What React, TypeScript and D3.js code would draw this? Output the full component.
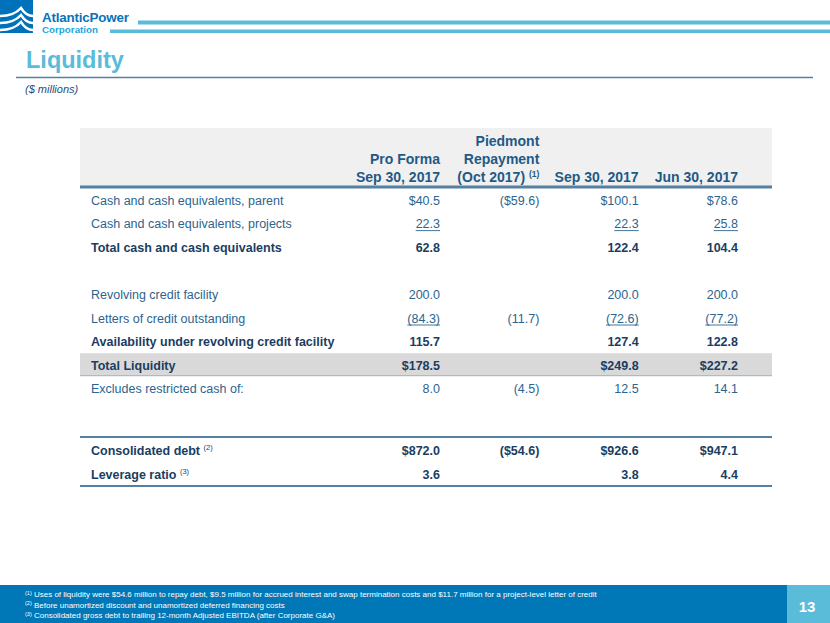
import React, { useEffect, useRef } from "react";
import * as d3 from "d3";

// table content ($ millions)
const columns = ["proForma", "piedmont", "sep2017", "jun2017"];
const headerLines = [
  ["Pro Forma", "Sep 30, 2017"],
  ["Piedmont", "Repayment", "(Oct 2017)"],
  ["Sep 30, 2017"],
  ["Jun 30, 2017"],
];
const headerNotes = ["", "(1)", "", ""];

const rowLabels = [
  "Cash and cash equivalents, parent",
  "Cash and cash equivalents, projects",
  "Total cash and cash equivalents",
  "",
  "Revolving credit facility",
  "Letters of credit outstanding",
  "Availability under revolving credit facility",
  "Total Liquidity",
  "Excludes restricted cash of:",
];
const proForma = ["$40.5", "22.3", "62.8", "", "200.0", "(84.3)", "115.7", "$178.5", "8.0"];
const piedmont = ["($59.6)", "", "", "", "", "(11.7)", "", "", "(4.5)"];
const sep2017 = ["$100.1", "22.3", "122.4", "", "200.0", "(72.6)", "127.4", "$249.8", "12.5"];
const jun2017 = ["$78.6", "25.8", "104.4", "", "200.0", "(77.2)", "122.8", "$227.2", "14.1"];
const boldRows = [2, 6, 7];
const underlinedRows = [1, 5];
const underlinedCols = ["proForma", "sep2017", "jun2017"];
const totalRow = 7;

const debtLabels = ["Consolidated debt", "Leverage ratio"];
const debtNotes = ["(2)", "(3)"];
const debtProForma = ["$872.0", "3.6"];
const debtPiedmont = ["($54.6)", ""];
const debtSep2017 = ["$926.6", "3.8"];
const debtJun2017 = ["$947.1", "4.4"];

const footnotes = [
  ["(1)", "Uses of liquidity were $54.6 million to repay debt, $9.5 million for accrued interest and swap termination costs and $11.7 million for a project-level letter of credit"],
  ["(2)", "Before unamortized discount and unamortized deferred financing costs"],
  ["(3)", "Consolidated gross debt to trailing 12-month Adjusted EBITDA (after Corporate G&A)"],
];

const FONT = "'Liberation Sans', Arial, sans-serif";
const C_REG = "#2c6490";
const C_BOLD = "#1a3d62";
const C_HEAD = "#1f5a86";
const C_RULE = "#55809f";

function App() {
  const svgRef = useRef<SVGSVGElement>(null);

  useEffect(() => {
    const w = 830;
    const h = 623;
    const left = 80;
    const right = 772;
    const labelX = 91;

    d3.select(svgRef.current).selectAll("*").remove();
    const svg = d3
      .select(svgRef.current)
      .attr("width", w)
      .attr("height", h)
      .style("font-family", FONT);

    // ---- logo
    const logo = svg.append("g");
    logo.append("rect").attr("x", 0).attr("y", 0).attr("width", 33).attr("height", 33).attr("fill", "#0072bc");
    [14, 21, 28].forEach((y) => {
      logo
        .append("path")
        .attr("d", `M0,${y + 2} Q14,${y + 2} 21,${y - 6} Q26,${y + 2} 33,${y + 2}`)
        .attr("fill", "none")
        .attr("stroke", "#fff")
        .attr("stroke-width", 2.4);
    });
    logo
      .append("text")
      .attr("x", 42)
      .attr("y", 22)
      .attr("font-size", 13.4)
      .attr("font-weight", "bold")
      .attr("fill", "#0a72b8")
      .attr("letter-spacing", -0.2)
      .text("AtlanticPower");
    logo
      .append("text")
      .attr("x", 42)
      .attr("y", 33)
      .attr("font-size", 9.8)
      .attr("font-weight", "bold")
      .attr("fill", "#25a5dd")
      .text("Corporation");
    svg.append("rect").attr("x", 138).attr("y", 20.5).attr("width", w - 138).attr("height", 4).attr("fill", "#5bbcd9");
    svg.append("rect").attr("x", 110).attr("y", 29.5).attr("width", w - 110).attr("height", 3.5).attr("fill", "#5bbcd9");

    // ---- title
    svg
      .append("text")
      .attr("x", 26)
      .attr("y", 68)
      .attr("font-size", 23.5)
      .attr("font-weight", "bold")
      .attr("fill", "#5bbcd9")
      .text("Liquidity");
    svg.append("line").attr("x1", 16).attr("x2", 813).attr("y1", 77.5).attr("y2", 77.5).attr("stroke", C_RULE).attr("stroke-width", 1.5);
    svg
      .append("text")
      .attr("x", 25)
      .attr("y", 93)
      .attr("font-size", 11)
      .attr("font-style", "italic")
      .attr("fill", "#1f4e79")
      .text("($ millions)");

    // ---- scales
    const xCol = d3.scalePoint<string>().domain(columns).range([440, 738]);
    const yRow = d3
      .scalePoint<number>()
      .domain(d3.range(rowLabels.length))
      .range([200, 388.8]);
    const yDebt = d3.scalePoint<number>().domain(d3.range(debtLabels.length)).range([450, 474]);
    const yHead = d3.scaleLinear().domain([0, 1]).range([177, 159]); // line index from bottom

    // ---- header
    svg.append("rect").attr("x", left).attr("y", 128).attr("width", right - left).attr("height", 58).attr("fill", "#f0f0f0");
    columns.forEach((c, ci) => {
      const lines = headerLines[ci];
      lines.forEach((ln, li) => {
        const fromBottom = lines.length - 1 - li;
        const t = svg
          .append("text")
          .attr("x", xCol(c)!)
          .attr("y", yHead(fromBottom) + 5)
          .attr("text-anchor", "end")
          .attr("font-size", 14)
          .attr("font-weight", "bold")
          .attr("fill", C_HEAD)
          .text(ln);
        if (fromBottom === 0 && headerNotes[ci]) {
          t.text(ln + " ");
          t.append("tspan").attr("font-size", 8.5).attr("dy", -5).text(headerNotes[ci]);
        }
      });
    });
    svg.append("rect").attr("x", left).attr("y", 185.5).attr("width", right - left).attr("height", 3).attr("fill", C_RULE);

    // ---- total liquidity band
    svg
      .append("rect")
      .attr("x", left)
      .attr("y", yRow(totalRow)! - 12)
      .attr("width", right - left)
      .attr("height", 22)
      .attr("fill", "#d9d9d9");
    svg
      .append("line")
      .attr("x1", left)
      .attr("x2", right)
      .attr("y1", yRow(totalRow)! + 10.5)
      .attr("y2", yRow(totalRow)! + 10.5)
      .attr("stroke", "#8fb0c6")
      .attr("stroke-width", 1);

    const cell = (x: number, y: number, s: string, bold: boolean, underline: boolean) => {
      if (!s) return;
      const color = bold ? C_BOLD : C_REG;
      const t = svg
        .append("text")
        .attr("x", x)
        .attr("y", y + 4.5)
        .attr("text-anchor", "end")
        .attr("font-size", 12.5)
        .attr("font-weight", bold ? "bold" : "normal")
        .attr("fill", color)
        .text(s);
      if (underline) {
        const len = (t.node() as SVGTextElement).getComputedTextLength();
        svg
          .append("line")
          .attr("x1", x - len)
          .attr("x2", x)
          .attr("y1", y + 7)
          .attr("y2", y + 7)
          .attr("stroke", color)
          .attr("stroke-width", 0.9);
      }
    };

    const series = [proForma, piedmont, sep2017, jun2017];
    rowLabels.forEach((label, i) => {
      const y = yRow(i)!;
      const bold = boldRows.includes(i);
      if (label) {
        svg
          .append("text")
          .attr("x", labelX)
          .attr("y", y + 4.5)
          .attr("font-size", 12.5)
          .attr("font-weight", bold ? "bold" : "normal")
          .attr("fill", bold ? C_BOLD : C_REG)
          .text(label);
      }
      series.forEach((vals, ci) => {
        const ul = underlinedRows.includes(i) && underlinedCols.includes(columns[ci]);
        cell(xCol(columns[ci])!, y, vals[i], bold, ul);
      });
    });

    // ---- debt section
    svg.append("rect").attr("x", left).attr("y", 436).attr("width", right - left).attr("height", 2).attr("fill", C_RULE);
    svg.append("rect").attr("x", left).attr("y", 485).attr("width", right - left).attr("height", 2).attr("fill", C_RULE);
    const debtSeries = [debtProForma, debtPiedmont, debtSep2017, debtJun2017];
    debtLabels.forEach((label, i) => {
      const y = yDebt(i)!;
      const t = svg
        .append("text")
        .attr("x", labelX)
        .attr("y", y + 4.5)
        .attr("font-size", 12.5)
        .attr("font-weight", "bold")
        .attr("fill", C_BOLD)
        .text(label + " ");
      t.append("tspan").attr("font-size", 7.5).attr("font-weight", "normal").attr("dy", -5).text(debtNotes[i]);
      debtSeries.forEach((vals, ci) => cell(xCol(columns[ci])!, y, vals[i], true, false));
    });

    // ---- footer
    svg.append("rect").attr("x", 0).attr("y", 585).attr("width", 787).attr("height", h - 585).attr("fill", "#0077b6");
    svg.append("rect").attr("x", 787).attr("y", 585).attr("width", w - 787).attr("height", h - 585).attr("fill", "#5bbcd9");
    svg
      .append("text")
      .attr("x", 807)
      .attr("y", 612)
      .attr("text-anchor", "middle")
      .attr("font-size", 15)
      .attr("font-weight", "bold")
      .attr("fill", "#fff")
      .text("13");
    const yNote = d3.scalePoint<number>().domain(d3.range(footnotes.length)).range([597, 618]);
    footnotes.forEach(([mark, txt], i) => {
      const t = svg
        .append("text")
        .attr("x", 25)
        .attr("y", yNote(i)!)
        .attr("font-size", 8)
        .attr("fill", "#fff");
      t.append("tspan").attr("font-size", 5.5).attr("dy", -2.5).text(mark);
      t.append("tspan").attr("dy", 2.5).text(" " + txt);
    });
  }, []);

  return (
    <div style={{ position: "absolute", left: 0, top: 0 }}>
      <svg ref={svgRef} style={{ display: "block" }}></svg>
    </div>
  );
}

export default App;
